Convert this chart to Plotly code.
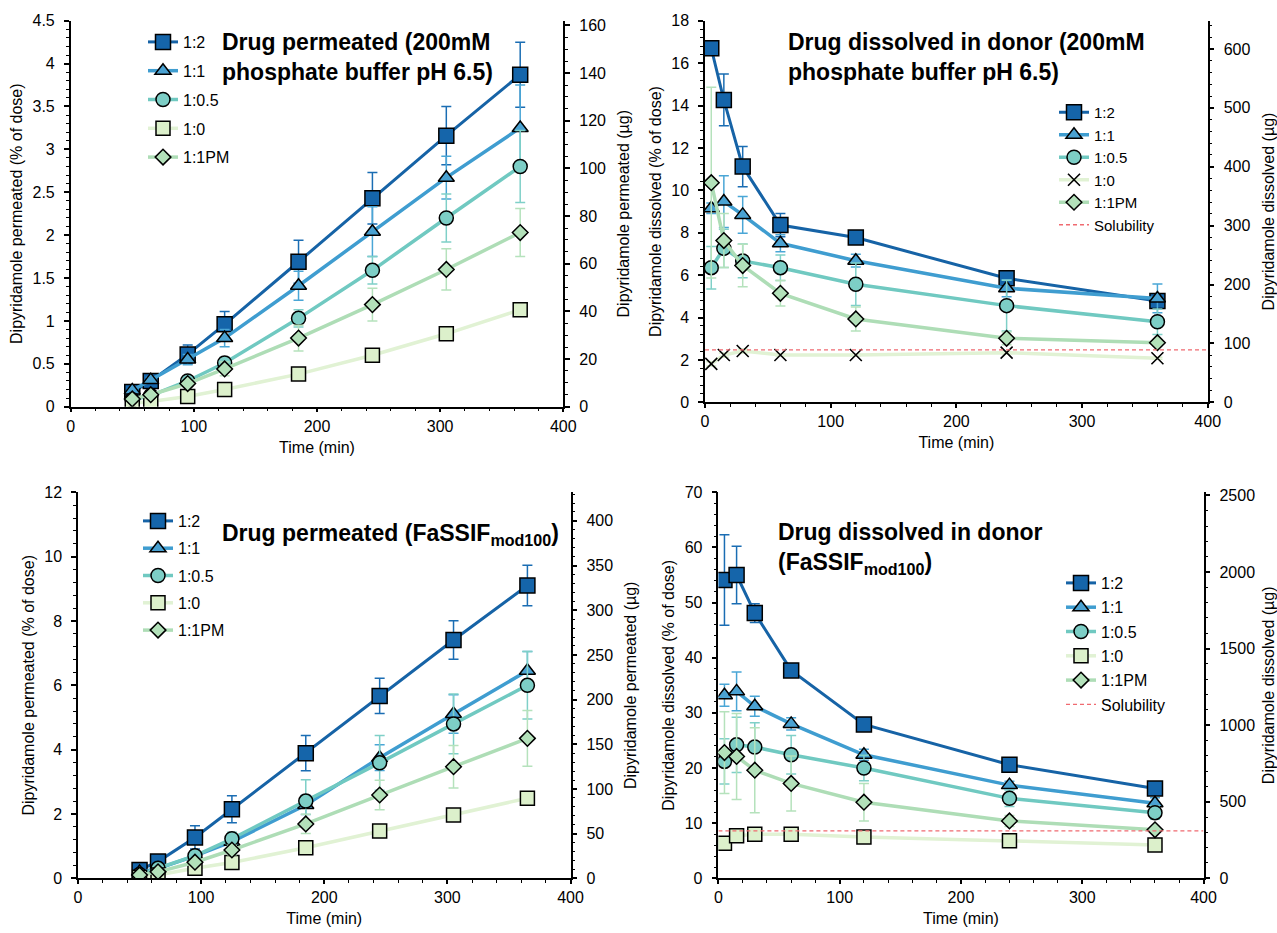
import plotly.graph_objects as go

W, H = 1277, 933

# ---------------- data ----------------
t_perm = [50, 65, 95, 125, 185, 245, 305, 365]
t_diss = [5, 15, 30, 60, 120, 240, 360]
names = ["1:2", "1:1", "1:0.5", "1:0", "1:1PM"]

# Panel A: drug permeated, 200mM phosphate buffer pH 6.5 (% of dose)
pa_12 = [0.17, 0.30, 0.61, 0.96, 1.69, 2.43, 3.16, 3.87]
pa_11 = [0.19, 0.31, 0.55, 0.80, 1.41, 2.04, 2.67, 3.25]
pa_105 = [0.08, 0.13, 0.30, 0.51, 1.03, 1.59, 2.20, 2.80]
pa_10 = [0.04, 0.06, 0.12, 0.20, 0.38, 0.60, 0.85, 1.13]
pa_pm = [0.09, 0.14, 0.27, 0.44, 0.80, 1.19, 1.60, 2.03]
pa_12_sd = [0.03, 0.04, 0.11, 0.15, 0.25, 0.30, 0.34, 0.38]
pa_11_sd = [0.02, 0.03, 0.06, 0.10, 0.17, 0.29, 0.25, 0.50]
pa_105_sd = [0.01, 0.02, 0.04, 0.07, 0.10, 0.16, 0.28, 0.42]
pa_10_sd = [0.01, 0.01, 0.02, 0.02, 0.03, 0.04, 0.05, 0.06]
pa_pm_sd = [0.01, 0.02, 0.04, 0.08, 0.15, 0.19, 0.24, 0.28]

# Panel B: drug dissolved in donor, phosphate buffer (% of dose)
pb_12 = [16.70, 14.26, 11.12, 8.36, 7.77, 5.85, 4.78]
pb_11 = [9.15, 9.47, 8.84, 7.50, 6.68, 5.38, 4.90]
pb_105 = [6.35, 7.26, 6.67, 6.35, 5.57, 4.56, 3.80]
pb_10 = [1.81, 2.23, 2.42, 2.23, 2.23, 2.34, 2.08]
pb_pm = [10.36, 7.63, 6.45, 5.14, 3.93, 3.02, 2.81]
pb_12_sd = [0.10, 1.22, 0.95, 0.55, 0.20, 0.36, 0.30]
pb_11_sd = [0.25, 1.22, 0.87, 0.40, 0.30, 0.40, 0.68]
pb_105_sd = [1.00, 0.90, 0.80, 0.60, 1.00, 1.20, 0.60]
pb_10_sd = [0.10, 0.10, 0.10, 0.05, 0.05, 0.05, 0.05]
pb_pm_sd = [4.50, 1.27, 1.00, 0.60, 0.57, 0.30, 0.15]

# Panel C: drug permeated, FaSSIF mod100 (% of dose)
pc_12 = [0.26, 0.52, 1.27, 2.15, 3.89, 5.67, 7.41, 9.10]
pc_11 = [0.20, 0.30, 0.70, 1.14, 2.28, 3.75, 5.11, 6.45]
pc_105 = [0.12, 0.31, 0.70, 1.23, 2.40, 3.59, 4.80, 6.00]
pc_10 = [0.03, 0.10, 0.31, 0.49, 0.95, 1.47, 1.97, 2.49]
pc_pm = [0.10, 0.20, 0.50, 0.88, 1.69, 2.59, 3.47, 4.35]
pc_12_sd = [0.03, 0.06, 0.36, 0.42, 0.55, 0.55, 0.60, 0.63]
pc_11_sd = [0.02, 0.05, 0.12, 0.20, 0.30, 0.40, 0.60, 0.60]
pc_105_sd = [0.02, 0.05, 0.12, 0.20, 0.66, 0.85, 0.93, 1.05]
pc_10_sd = [0.01, 0.02, 0.03, 0.04, 0.05, 0.06, 0.08, 0.10]
pc_pm_sd = [0.02, 0.04, 0.08, 0.15, 0.30, 0.46, 0.66, 0.87]

# Panel D: drug dissolved in donor, FaSSIF mod100 (% of dose)
pd_12 = [54.1, 55.0, 48.1, 37.7, 27.9, 20.6, 16.3]
pd_11 = [33.2, 33.9, 31.2, 28.0, 22.4, 16.9, 13.6]
pd_105 = [21.2, 24.2, 23.8, 22.4, 20.0, 14.5, 11.9]
pd_10 = [6.35, 7.7, 8.0, 8.0, 7.5, 6.8, 6.05]
pd_pm = [22.8, 22.1, 19.6, 17.2, 13.8, 10.4, 8.8]
pd_12_sd = [8.2, 5.2, 1.7, 0.5, 0.6, 0.5, 0.5]
pd_11_sd = [2.0, 3.5, 1.8, 1.1, 1.0, 0.7, 1.0]
pd_105_sd = [4.1, 5.0, 4.4, 3.5, 2.3, 1.5, 1.2]
pd_10_sd = [0.3, 0.3, 0.3, 0.3, 0.3, 0.3, 0.3]
pd_pm_sd = [7.4, 7.8, 7.7, 5.0, 3.4, 1.0, 0.5]

sol_x = [0, 400]
sol_pb = [2.47, 2.47]
sol_fa = [8.6, 8.6]

UG_PER_PCT = 36.0  # right axis (µg) = left axis (% of dose) x 36

# ---------------- styles ----------------
FONT = "Liberation Sans, Arial, sans-serif"
LINE_C = {"1:2": "#1663A6", "1:1": "#3F9DD0", "1:0.5": "#70C9C1",
          "1:0": "#E1F2D4", "1:1PM": "#AEDDB6"}
FILL_C = {"1:2": "#1565AA", "1:1": "#4AA2D2", "1:0.5": "#7DCEC6",
          "1:0": "#DCF0CB", "1:1PM": "#B3E1BA"}
ERR_C = {"1:2": "#1A6DB3", "1:1": "#4AA6D6", "1:0.5": "#7FD0C8",
         "1:0": "#D5ECC8", "1:1PM": "#B5E2BC"}
SYM = {"1:2": "square", "1:1": "triangle-up", "1:0.5": "circle",
       "1:0": "square", "1:1PM": "diamond"}
SIZE = {"1:2": 15, "1:1": 14, "1:0.5": 14, "1:0": 14, "1:1PM": 12}
LW = {"1:2": 3, "1:1": 3.5, "1:0.5": 3.5, "1:0": 3.5, "1:1PM": 3.5}


def px2x(p):
    return p / W


def px2y(p):
    return 1 - p / H


panels = [
    dict(key="a", x="x", y="y", y2="y2", leg="legend", t=t_perm,
         vals=[pa_12, pa_11, pa_105, pa_10, pa_pm],
         sds=[pa_12_sd, pa_11_sd, pa_105_sd, pa_10_sd, pa_pm_sd],
         sol=None, x10="square",
         xdom=(70.7, 563.3), ydom=(406.7, 20.7), ymax=4.5, dt=0.5, mdt=0.1,
         dt2=20, mdt2=5,
         ytitle="Dipyridamole permeated (% of dose)",
         y2title="Dipyridamole permeated (µg)",
         legpos=(143, 25), gap=5, lfs=16),
    dict(key="b", x="x2", y="y3", y2="y4", leg="legend2", t=t_diss,
         vals=[pb_12, pb_11, pb_105, pb_10, pb_pm],
         sds=[pb_12_sd, pb_11_sd, pb_105_sd, pb_10_sd, pb_pm_sd],
         sol=sol_pb, x10="x-thin",
         xdom=(705, 1207.7), ydom=(402.3, 20.7), ymax=18, dt=2, mdt=0.4,
         dt2=100, mdt2=20,
         ytitle="Dipyridamole dissolved (% of dose)",
         y2title="Dipyridamole dissolved (µg)",
         legpos=(1054, 96), gap=0, lfs=15),
    dict(key="c", x="x3", y="y5", y2="y6", leg="legend3", t=t_perm,
         vals=[pc_12, pc_11, pc_105, pc_10, pc_pm],
         sds=[pc_12_sd, pc_11_sd, pc_105_sd, pc_10_sd, pc_pm_sd],
         sol=None, x10="square",
         xdom=(78, 570.5), ydom=(878.3, 492.3), ymax=12, dt=2, mdt=0.4,
         dt2=50, mdt2=10,
         ytitle="Dipyridamole permeated (% of dose)",
         y2title="Dipyridamole permeated (µg)",
         legpos=(138, 504), gap=3.5, lfs=16),
    dict(key="d", x="x4", y="y7", y2="y8", leg="legend4", t=t_diss,
         vals=[pd_12, pd_11, pd_105, pd_10, pd_pm],
         sds=[pd_12_sd, pd_11_sd, pd_105_sd, pd_10_sd, pd_pm_sd],
         sol=sol_fa, x10="square",
         xdom=(718.4, 1203.5), ydom=(878.3, 492.3), ymax=70, dt=10, mdt=2,
         dt2=500, mdt2=100,
         ytitle="Dipyridamole dissolved (% of dose)",
         y2title="Dipyridamole dissolved (µg)",
         legpos=(1061, 566), gap=0.5, lfs=16),
]

fig = go.Figure()

axis_common = dict(
    showline=True, linecolor="black", linewidth=1.5, showgrid=False,
    zeroline=False, ticks="outside", ticklen=5, tickwidth=1.5,
    tickcolor="black", tickfont=dict(family=FONT, size=16, color="black"),
    automargin=False,
)

for P in panels:
    for i, n in enumerate(names):
        sym = SYM[n]
        if n == "1:0":
            sym = P["x10"]
        if sym == "x-thin":
            marker = dict(symbol="x-thin", size=12, color="black",
                          line=dict(width=1.6, color="black"))
        else:
            marker = dict(symbol=sym, size=SIZE[n], color=FILL_C[n],
                          line=dict(width=1.5, color="black"))
        fig.add_trace(go.Scatter(
            x=P["t"], y=P["vals"][i], mode="lines+markers", name=n,
            xaxis=P["x"], yaxis=P["y"], legend=P["leg"],
            legendgroup=P["key"] + n,
            line=dict(color=LINE_C[n], width=LW[n]),
            marker=marker,
            error_y=dict(type="data", array=P["sds"][i], visible=True,
                         color=ERR_C[n], thickness=1.5, width=5),
        ))
    if P["sol"] is not None:
        fig.add_trace(go.Scatter(
            x=sol_x, y=P["sol"], mode="lines", name="Solubility",
            xaxis=P["x"], yaxis=P["y"], legend=P["leg"],
            legendgroup=P["key"] + "sol",
            line=dict(color="#F06A70", width=1.3, dash="4px,3px"),
        ))
    # dummy trace so the right (µg) axis is registered
    fig.add_trace(go.Scatter(
        x=[None], y=[None], xaxis=P["x"], yaxis=P["y2"], showlegend=False,
        hoverinfo="skip", mode="markers"))

    xname = "xaxis" + P["x"][1:]
    yname = "yaxis" + P["y"][1:]
    y2name = "yaxis" + P["y2"][1:]
    xd = [px2x(P["xdom"][0]), px2x(P["xdom"][1])]
    yd = [px2y(P["ydom"][0]), px2y(P["ydom"][1])]
    fig.update_layout({
        xname: dict(axis_common, domain=xd, anchor=P["y"], range=[0, 400],
                    dtick=100, tick0=0, ticklen=4, ticklabelstandoff=0,
                    minor=dict(dtick=20, tick0=0, ticks="outside", ticklen=3,
                               tickwidth=1.2, tickcolor="black"),
                    title=dict(text="Time (min)", standoff=8,
                               font=dict(family=FONT, size=16, color="black"))),
        yname: dict(axis_common, domain=yd, anchor=P["x"],
                    range=[0, P["ymax"]], dtick=P["dt"], tick0=0,
                    ticklabelstandoff=6,
                    minor=dict(dtick=P["mdt"], tick0=0, ticks="outside",
                               ticklen=3, tickwidth=1.2, tickcolor="black"),
                    title=dict(text=P["ytitle"], standoff=6,
                               font=dict(family=FONT, size=16, color="black"))),
        y2name: dict(axis_common, overlaying=P["y"], side="right",
                     anchor=P["x"], ticklabelstandoff=6,
                     range=[0, P["ymax"] * UG_PER_PCT], dtick=P["dt2"], tick0=0,
                     minor=dict(dtick=P["mdt2"], tick0=0, ticks="outside",
                                ticklen=3, tickwidth=1.2, tickcolor="black"),
                     title=dict(text=P["y2title"], standoff=13,
                                font=dict(family=FONT, size=16, color="black"))),
        P["leg"]: dict(x=px2x(P["legpos"][0]), y=px2y(P["legpos"][1]),
                       xanchor="left", yanchor="top",
                       bgcolor="rgba(0,0,0,0)", borderwidth=0,
                       traceorder="grouped", tracegroupgap=P["gap"],
                       font=dict(family=FONT, size=P["lfs"], color="black"),
                       itemsizing="trace"),
    })

title_font = dict(family=FONT, size=23, color="black")
titles = [
    ("<b>Drug permeated (200mM<br>phosphate buffer pH 6.5)</b>", 219.5, 56.7),
    ("<b>Drug dissolved in donor (200mM<br>phosphate buffer pH 6.5)</b>", 785.8, 56.7),
    ("<b>Drug permeated (FaSSIF<sub>mod100</sub>)</b>", 219.5, 534),
    ("<b>Drug dissolved in donor<br>(FaSSIF<sub>mod100</sub>)</b>", 776, 548),
]
for txt, xp, yp in titles:
    fig.add_annotation(text=txt, x=px2x(xp), y=px2y(yp), xref="paper",
                       yref="paper", xanchor="left", yanchor="middle",
                       align="left", showarrow=False, font=title_font)

fig.update_layout(
    template="none",
    width=W, height=H,
    margin=dict(l=0, r=0, t=0, b=0),
    paper_bgcolor="white", plot_bgcolor="rgba(0,0,0,0)",
    font=dict(family=FONT, size=16, color="black"),
    showlegend=True,
)

fig.write_html("out.html")
